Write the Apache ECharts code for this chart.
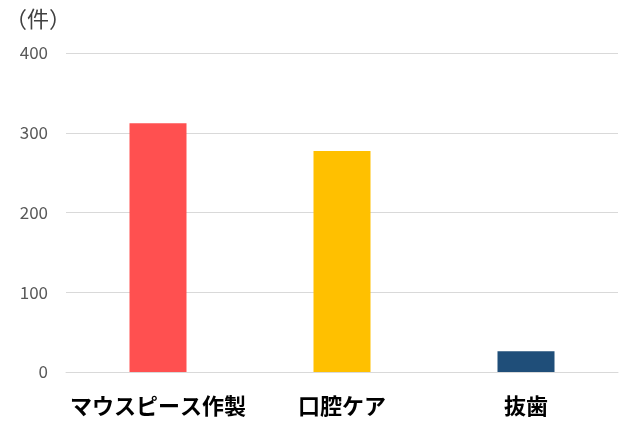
<!DOCTYPE html>
<html><head><meta charset="utf-8">
<script src="https://cdn.jsdelivr.net/npm/echarts@6/dist/echarts.min.js"></script>
<style>html,body{margin:0;padding:0;background:#fff}#c{width:631px;height:440px}</style>
</head><body><div id="c"></div>
<script>
const categories = ['マウスピース作製', '口腔ケア', '抜歯'];
const values = [312, 277, 26];
const colors = ['#FF5050', '#FFC000', '#1F4E79'];
const yTicks = [0, 100, 200, 300, 400];
const unitLabel = '（件）';

const chart = echarts.init(document.getElementById('c'));
chart.setOption({
  animation: false,
  grid: {left: 66, right: 13, top: 53, bottom: 68},
  title: {text: unitLabel, left: 0, top: 3, textStyle: {fontSize: 22, fontWeight: 'normal', color: '#404040', fontFamily: 'Noto Sans CJK JP'}},
  xAxis: {
    type: 'category', data: categories,
    axisLine: {lineStyle: {color: '#D9D9D9'}},
    axisTick: {show: false},
    axisLabel: {fontSize: 22, fontWeight: 'bold', color: '#000', margin: 23, fontFamily: 'Noto Sans CJK JP', interval: 0}
  },
  yAxis: {
    type: 'value', min: yTicks[0], max: yTicks[yTicks.length - 1], interval: 100,
    axisLine: {show: false}, axisTick: {show: false},
    splitLine: {lineStyle: {color: '#D9D9D9'}},
    axisLabel: {fontSize: 17, color: '#595959', margin: 18, fontFamily: 'Noto Sans CJK JP'}
  },
  series: [{
    type: 'bar', barWidth: 57,
    data: values.map((v, i) => ({value: v, itemStyle: {color: colors[i]}}))
  }]
});
</script></body></html>
